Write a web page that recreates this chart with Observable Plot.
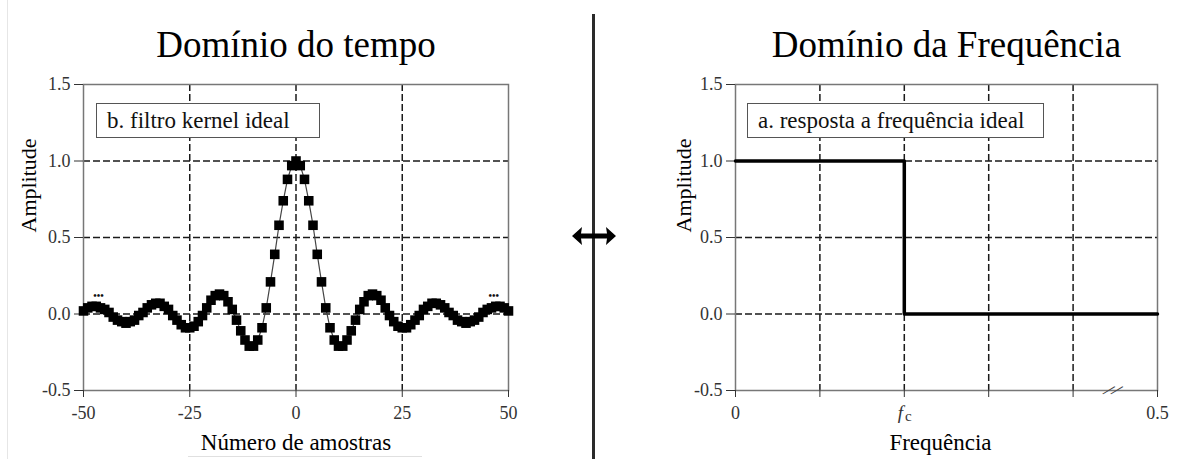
<!DOCTYPE html>
<html><head><meta charset="utf-8">
<script src="https://cdn.jsdelivr.net/npm/d3@7"></script>
<script src="https://cdn.jsdelivr.net/npm/@observablehq/plot@0.6"></script>
<style>
body{margin:0;background:#fff;}
#wrap{position:relative;width:1181px;height:459px;overflow:hidden;background:#fff;font-family:"Liberation Serif","Times New Roman",serif;}
.chart{position:absolute;top:0;}
.legend{position:absolute;border:1px solid #555;background:#fff;font-size:23px;color:#111;box-sizing:border-box;height:35px;line-height:33px;padding-left:10px;white-space:nowrap;font-family:"Liberation Serif","Times New Roman",serif;}
.deco{position:absolute;}
</style></head><body><div id="wrap"></div>
<script>
// ---- data ----
const sampleN = d3.range(-50, 51);
const kernelAmp = [
  0.02, 0.04, 0.05, 0.05, 0.04, 0.03, 0.01, -0.02, -0.04, -0.05,
  -0.06, -0.05, -0.04, -0.01, 0.01, 0.04, 0.06, 0.07, 0.07, 0.05,
  0.03, -0.01, -0.04, -0.07, -0.09, -0.09, -0.08, -0.05, -0.01, 0.04,
  0.09, 0.12, 0.13, 0.12, 0.08, 0.03, -0.04, -0.11, -0.17, -0.21,
  -0.21, -0.17, -0.09, 0.04, 0.21, 0.39, 0.58, 0.74, 0.88, 0.97,
  1.00,
  0.97, 0.88, 0.74, 0.58, 0.39, 0.21, 0.04, -0.09, -0.17, -0.21,
  -0.21, -0.17, -0.11, -0.04, 0.03, 0.08, 0.12, 0.13, 0.12, 0.09,
  0.04, -0.01, -0.05, -0.08, -0.09, -0.09, -0.07, -0.04, -0.01, 0.03,
  0.05, 0.07, 0.07, 0.06, 0.04, 0.01, -0.01, -0.04, -0.05, -0.06,
  -0.05, -0.04, -0.02, 0.01, 0.03, 0.04, 0.05, 0.05, 0.04, 0.02
];
const timeTicks = [-50, -25, 0, 25, 50];
const timeGrid = [-25, 0, 25];
const ampTicks = [-0.5, 0, 0.5, 1.0, 1.5];
const ampGrid = [0, 0.5, 1.0];
const ellipsisN = [-46.5, 46.5];
const ellipsisA = [0.12, 0.12];

const freqX = [0, 0.2, 0.2, 0.5];
const freqY = [1, 1, 0, 0];
const freqTicks = [0, 0.1, 0.2, 0.3, 0.4, 0.5];
const freqLabels = {0: "0", 0.5: "0.5"};
const freqGrid = [0.1, 0.2, 0.3, 0.4];
const fcPos = [0.2];
const breakPos = [0.447];

const timeData = sampleN.map((n, i) => ({n, a: kernelAmp[i]}));
const freqData = freqX.map((f, i) => ({f, a: freqY[i]}));

const FONT = "'Liberation Serif', 'Times New Roman', serif";
const dash = {stroke: "#1a1a1a", strokeWidth: 1.5, strokeDasharray: "7,3"};
const common = {
  height: 459, marginTop: 84, marginBottom: 69,
  style: {fontFamily: FONT, background: "transparent", color: "#222", overflow: "visible"},
  y: {domain: [-0.5, 1.5]}
};

const left = Plot.plot({
  ...common,
  width: 590, marginLeft: 83, marginRight: 82,
  x: {domain: [-50, 50]},
  marks: [
    Plot.ruleX(timeGrid, dash),
    Plot.ruleY(ampGrid, dash),
    Plot.frame({stroke: "#777", strokeWidth: 1.5}),
    Plot.axisX({ticks: timeTicks, tickSize: 7, tickPadding: 9, fontSize: 18, tickFormat: d => String(d), label: null, color: "#333", fontFamily: FONT}),
    Plot.axisY({ticks: ampTicks, tickSize: 9, tickPadding: 4, fontSize: 18, tickFormat: d => d.toFixed(1), label: null, color: "#333", fontFamily: FONT}),
    Plot.line(timeData, {x: "n", y: "a", stroke: "#444", strokeWidth: 1.2}),
    Plot.dot(timeData, {x: "n", y: "a", symbol: "square", r: 5.4, fill: "#000", stroke: null}),
    Plot.text(ellipsisN, {x: d => d, y: (d, i) => ellipsisA[i], text: () => "•••", fontSize: 10, fontWeight: "bold", fill: "#111"}),
    Plot.text(["Domínio do tempo"], {frameAnchor: "top", lineAnchor: "middle", dy: -39, fontSize: 37, fill: "#000"}),
    Plot.text(["Número de amostras"], {frameAnchor: "bottom", lineAnchor: "middle", dy: 52, fontSize: 23, fill: "#000"}),
    Plot.text(["Amplitude"], {frameAnchor: "left", lineAnchor: "middle", rotate: -90, dx: -55, dy: -5, fontSize: 22, fill: "#000"})
  ]
});

const right = Plot.plot({
  ...common,
  width: 591, marginLeft: 145, marginRight: 24,
  x: {domain: [0, 0.5]},
  marks: [
    Plot.ruleX(freqGrid, dash),
    Plot.ruleY(ampGrid, dash),
    Plot.frame({stroke: "#777", strokeWidth: 1.5}),
    Plot.axisX({ticks: freqTicks, tickSize: 7, tickPadding: 9, fontSize: 18, tickFormat: d => freqLabels[d] ?? "", label: null, color: "#333", fontFamily: FONT}),
    Plot.axisY({ticks: ampTicks, tickSize: 9, tickPadding: 4, fontSize: 18, tickFormat: d => d.toFixed(1), label: null, color: "#333", fontFamily: FONT}),
    Plot.line(freqData, {x: "f", y: "a", stroke: "#000", strokeWidth: 3.5}),
    Plot.text(fcPos, {x: d => d, frameAnchor: "bottom", lineAnchor: "middle", dy: 22, dx: -4, text: () => "f", fontStyle: "italic", fontSize: 19, fill: "#333"}),
    Plot.text(fcPos, {x: d => d, frameAnchor: "bottom", lineAnchor: "middle", dy: 26, dx: 4, text: () => "c", fontSize: 15, fill: "#333"}),
    Plot.text(breakPos, {x: d => d, frameAnchor: "bottom", lineAnchor: "middle", dx: -4, text: () => "/", rotate: 40, fontSize: 20, fill: "#444"}),
    Plot.text(breakPos, {x: d => d, frameAnchor: "bottom", lineAnchor: "middle", dx: 4, text: () => "/", rotate: 40, fontSize: 20, fill: "#444"}),
    Plot.text(["Domínio da Frequência"], {frameAnchor: "top", lineAnchor: "middle", dy: -39, fontSize: 37, fill: "#000"}),
    Plot.text(["Frequência"], {frameAnchor: "bottom", lineAnchor: "middle", dy: 52, dx: -6, fontSize: 23, fill: "#000"}),
    Plot.text(["Amplitude"], {frameAnchor: "left", lineAnchor: "middle", rotate: -90, dx: -52, dy: -5, fontSize: 22, fill: "#000"})
  ]
});

const wrap = document.getElementById("wrap");
left.classList.add("chart"); left.style.left = "0px";
right.classList.add("chart"); right.style.left = "590px";
wrap.appendChild(left);
wrap.appendChild(right);

// decorations
wrap.insertAdjacentHTML("beforeend", `
<div class="deco" style="left:7px;top:0;width:1px;height:459px;background:#e6e6e6"></div>
<div class="deco" style="left:188px;top:456px;width:234px;height:1px;background:#e0e0e0"></div>
<div class="deco" style="left:592px;top:14px;width:3px;height:445px;background:#2a2a2a"></div>
<svg class="deco" style="left:0;top:0" width="1181" height="459"><path d="M572,236 L582,227 L581,233.5 L607,233.5 L606,227 L616,236 L606,245 L607,238.5 L581,238.5 L582,245 Z" fill="#000"/></svg>
<div class="legend" style="left:96px;top:103px;width:224px">b. filtro kernel ideal</div>
<div class="legend" style="left:747px;top:103px;width:297px">a. resposta a frequência ideal</div>
`);
</script></body></html>
